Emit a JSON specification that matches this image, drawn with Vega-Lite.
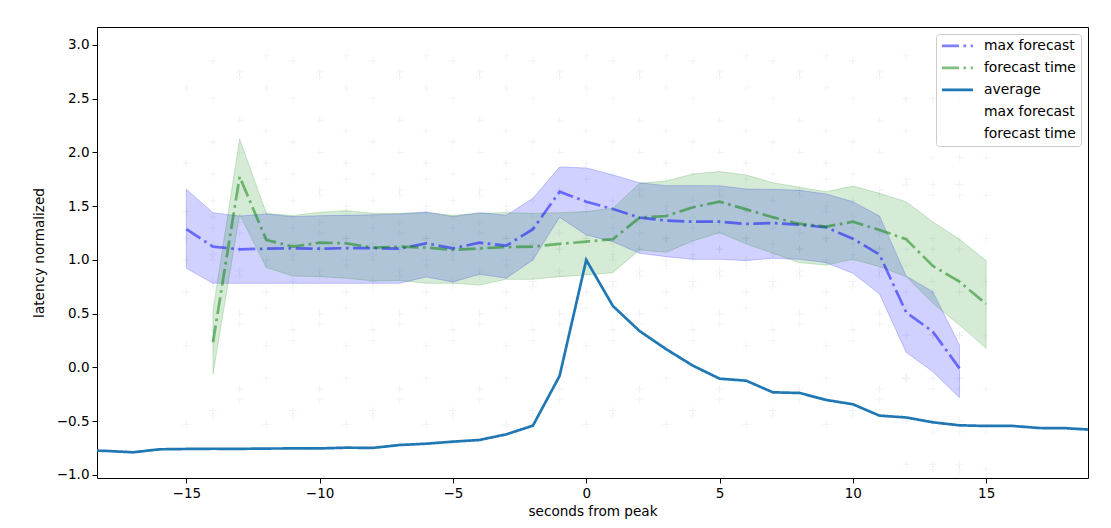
{
  "$schema": "https://vega.github.io/schema/vega-lite/v6.json",
  "width": 991,
  "height": 451,
  "autosize": {"type": "none"},
  "padding": {"left": 97, "top": 27, "right": 23, "bottom": 50},
  "background": "white",
  "config": {
    "view": {"stroke": "black", "strokeWidth": 1},
    "font": "DejaVu Sans",
    "axis": {
      "domain": false, "grid": false, "ticks": true, "tickColor": "black", "tickSize": 5, "tickWidth": 1,
      "labelColor": "black", "labelFontSize": 13.5, "labelFont": "DejaVu Sans", "labelPadding": 3,
      "titleColor": "black", "titleFont": "DejaVu Sans", "titleFontSize": 13.6, "titleFontWeight": "normal"
    },
    "axisX": {"titlePadding": 5, "labelFontSize": 13.5, "titleFontSize": 13.6},
    "axisY": {"titlePadding": 10, "labelFontSize": 13.5, "titleFontSize": 13.6},
    "legend": {
      "orient": "top-right", "offset": 7, "fillColor": "rgba(255,255,255,0.8)", "strokeColor": "#cccccc",
      "cornerRadius": 3, "padding": 5, "labelFontSize": 13.9, "labelFont": "DejaVu Sans", "labelColor": "black",
      "rowPadding": 7, "labelOffset": 29, "symbolType": "M-1.2,0H5", "symbolSize": 100
    }
  },
  "datasets": {
    "avg": [
      {"x": -19, "y": -0.77, "s": "average"}, {"x": -18, "y": -0.776, "s": "average"}, {"x": -17, "y": -0.789, "s": "average"},
      {"x": -16, "y": -0.761, "s": "average"}, {"x": -15, "y": -0.758, "s": "average"}, {"x": -14, "y": -0.756, "s": "average"},
      {"x": -13, "y": -0.757, "s": "average"}, {"x": -12, "y": -0.754, "s": "average"}, {"x": -11, "y": -0.753, "s": "average"},
      {"x": -10, "y": -0.753, "s": "average"}, {"x": -9, "y": -0.746, "s": "average"}, {"x": -8, "y": -0.748, "s": "average"},
      {"x": -7, "y": -0.721, "s": "average"}, {"x": -6, "y": -0.709, "s": "average"}, {"x": -5, "y": -0.69, "s": "average"},
      {"x": -4, "y": -0.674, "s": "average"}, {"x": -3, "y": -0.622, "s": "average"}, {"x": -2, "y": -0.541, "s": "average"},
      {"x": -1, "y": -0.079, "s": "average"}, {"x": 0, "y": 1.0, "s": "average"}, {"x": 1, "y": 0.572, "s": "average"},
      {"x": 2, "y": 0.339, "s": "average"}, {"x": 3, "y": 0.17, "s": "average"}, {"x": 4, "y": 0.017, "s": "average"},
      {"x": 5, "y": -0.104, "s": "average"}, {"x": 6, "y": -0.123, "s": "average"}, {"x": 7, "y": -0.231, "s": "average"},
      {"x": 8, "y": -0.237, "s": "average"}, {"x": 9, "y": -0.302, "s": "average"}, {"x": 10, "y": -0.342, "s": "average"},
      {"x": 11, "y": -0.448, "s": "average"}, {"x": 12, "y": -0.465, "s": "average"}, {"x": 13, "y": -0.51, "s": "average"},
      {"x": 14, "y": -0.538, "s": "average"}, {"x": 15, "y": -0.544, "s": "average"}, {"x": 16, "y": -0.544, "s": "average"},
      {"x": 17, "y": -0.563, "s": "average"}, {"x": 18, "y": -0.565, "s": "average"}, {"x": 19, "y": -0.58, "s": "average"}
    ],
    "lines": [
      {"x": -15, "y": 1.288, "s": "max forecast"}, {"x": -14, "y": 1.124, "s": "max forecast"}, {"x": -13, "y": 1.099, "s": "max forecast"},
      {"x": -12, "y": 1.105, "s": "max forecast"}, {"x": -11, "y": 1.108, "s": "max forecast"}, {"x": -10, "y": 1.105, "s": "max forecast"},
      {"x": -9, "y": 1.11, "s": "max forecast"}, {"x": -8, "y": 1.11, "s": "max forecast"}, {"x": -7, "y": 1.105, "s": "max forecast"},
      {"x": -6, "y": 1.155, "s": "max forecast"}, {"x": -5, "y": 1.108, "s": "max forecast"}, {"x": -4, "y": 1.161, "s": "max forecast"},
      {"x": -3, "y": 1.133, "s": "max forecast"}, {"x": -2, "y": 1.286, "s": "max forecast"}, {"x": -1, "y": 1.635, "s": "max forecast"},
      {"x": 0, "y": 1.542, "s": "max forecast"}, {"x": 1, "y": 1.474, "s": "max forecast"}, {"x": 2, "y": 1.394, "s": "max forecast"},
      {"x": 3, "y": 1.366, "s": "max forecast"}, {"x": 4, "y": 1.356, "s": "max forecast"}, {"x": 5, "y": 1.356, "s": "max forecast"},
      {"x": 6, "y": 1.335, "s": "max forecast"}, {"x": 7, "y": 1.344, "s": "max forecast"}, {"x": 8, "y": 1.328, "s": "max forecast"},
      {"x": 9, "y": 1.304, "s": "max forecast"}, {"x": 10, "y": 1.198, "s": "max forecast"}, {"x": 11, "y": 1.05, "s": "max forecast"},
      {"x": 12, "y": 0.513, "s": "max forecast"}, {"x": 13, "y": 0.333, "s": "max forecast"}, {"x": 14, "y": -0.008, "s": "max forecast"},
      {"x": -14, "y": 0.234, "s": "forecast time"}, {"x": -13, "y": 1.775, "s": "forecast time"}, {"x": -12, "y": 1.186, "s": "forecast time"},
      {"x": -11, "y": 1.124, "s": "forecast time"}, {"x": -10, "y": 1.161, "s": "forecast time"}, {"x": -9, "y": 1.155, "s": "forecast time"},
      {"x": -8, "y": 1.115, "s": "forecast time"}, {"x": -7, "y": 1.124, "s": "forecast time"}, {"x": -6, "y": 1.115, "s": "forecast time"},
      {"x": -5, "y": 1.093, "s": "forecast time"}, {"x": -4, "y": 1.108, "s": "forecast time"}, {"x": -3, "y": 1.12, "s": "forecast time"},
      {"x": -2, "y": 1.124, "s": "forecast time"}, {"x": -1, "y": 1.149, "s": "forecast time"}, {"x": 0, "y": 1.171, "s": "forecast time"},
      {"x": 1, "y": 1.193, "s": "forecast time"}, {"x": 2, "y": 1.394, "s": "forecast time"}, {"x": 3, "y": 1.409, "s": "forecast time"},
      {"x": 4, "y": 1.49, "s": "forecast time"}, {"x": 5, "y": 1.542, "s": "forecast time"}, {"x": 6, "y": 1.471, "s": "forecast time"},
      {"x": 7, "y": 1.397, "s": "forecast time"}, {"x": 8, "y": 1.335, "s": "forecast time"}, {"x": 9, "y": 1.31, "s": "forecast time"},
      {"x": 10, "y": 1.356, "s": "forecast time"}, {"x": 11, "y": 1.279, "s": "forecast time"}, {"x": 12, "y": 1.193, "s": "forecast time"},
      {"x": 13, "y": 0.944, "s": "forecast time"}, {"x": 14, "y": 0.798, "s": "forecast time"}, {"x": 15, "y": 0.591, "s": "forecast time"}
    ],
    "bands": [
      {"x": -15, "lo": 0.923, "hi": 1.658, "s": "m"}, {"x": -14, "lo": 0.783, "hi": 1.44, "s": "m"}, {"x": -13, "lo": 0.783, "hi": 1.409, "s": "m"},
      {"x": -12, "lo": 0.783, "hi": 1.428, "s": "m"}, {"x": -11, "lo": 0.783, "hi": 1.403, "s": "m"}, {"x": -10, "lo": 0.783, "hi": 1.412, "s": "m"},
      {"x": -9, "lo": 0.783, "hi": 1.415, "s": "m"}, {"x": -8, "lo": 0.783, "hi": 1.42, "s": "m"}, {"x": -7, "lo": 0.783, "hi": 1.428, "s": "m"},
      {"x": -6, "lo": 0.842, "hi": 1.447, "s": "m"}, {"x": -5, "lo": 0.795, "hi": 1.403, "s": "m"}, {"x": -4, "lo": 0.867, "hi": 1.44, "s": "m"},
      {"x": -3, "lo": 0.83, "hi": 1.416, "s": "m"}, {"x": -2, "lo": 1.0, "hi": 1.574, "s": "m"}, {"x": -1, "lo": 1.397, "hi": 1.865, "s": "m"},
      {"x": 0, "lo": 1.233, "hi": 1.856, "s": "m"}, {"x": 1, "lo": 1.17, "hi": 1.791, "s": "m"}, {"x": 2, "lo": 1.062, "hi": 1.719, "s": "m"},
      {"x": 3, "lo": 1.031, "hi": 1.691, "s": "m"}, {"x": 4, "lo": 1.006, "hi": 1.691, "s": "m"}, {"x": 5, "lo": 1.006, "hi": 1.69, "s": "m"},
      {"x": 6, "lo": 0.994, "hi": 1.66, "s": "m"}, {"x": 7, "lo": 1.016, "hi": 1.657, "s": "m"}, {"x": 8, "lo": 1.006, "hi": 1.648, "s": "m"},
      {"x": 9, "lo": 0.975, "hi": 1.614, "s": "m"}, {"x": 10, "lo": 0.876, "hi": 1.542, "s": "m"}, {"x": 11, "lo": 0.684, "hi": 1.409, "s": "m"},
      {"x": 12, "lo": 0.141, "hi": 0.851, "s": "m"}, {"x": 13, "lo": -0.039, "hi": 0.705, "s": "m"}, {"x": 14, "lo": -0.281, "hi": 0.209, "s": "m"},
      {"x": -14, "lo": -0.06, "hi": 0.53, "s": "f"}, {"x": -13, "lo": 1.424, "hi": 2.126, "s": "f"}, {"x": -12, "lo": 0.93, "hi": 1.434, "s": "f"},
      {"x": -11, "lo": 0.851, "hi": 1.412, "s": "f"}, {"x": -10, "lo": 0.845, "hi": 1.444, "s": "f"}, {"x": -9, "lo": 0.83, "hi": 1.459, "s": "f"},
      {"x": -8, "lo": 0.805, "hi": 1.434, "s": "f"}, {"x": -7, "lo": 0.81, "hi": 1.434, "s": "f"}, {"x": -6, "lo": 0.783, "hi": 1.44, "s": "f"},
      {"x": -5, "lo": 0.783, "hi": 1.415, "s": "f"}, {"x": -4, "lo": 0.767, "hi": 1.434, "s": "f"}, {"x": -3, "lo": 0.82, "hi": 1.44, "s": "f"},
      {"x": -2, "lo": 0.82, "hi": 1.434, "s": "f"}, {"x": -1, "lo": 0.845, "hi": 1.44, "s": "f"}, {"x": 0, "lo": 0.86, "hi": 1.45, "s": "f"},
      {"x": 1, "lo": 0.882, "hi": 1.481, "s": "f"}, {"x": 2, "lo": 1.093, "hi": 1.713, "s": "f"}, {"x": 3, "lo": 1.071, "hi": 1.735, "s": "f"},
      {"x": 4, "lo": 1.177, "hi": 1.8, "s": "f"}, {"x": 5, "lo": 1.254, "hi": 1.822, "s": "f"}, {"x": 6, "lo": 1.149, "hi": 1.791, "s": "f"},
      {"x": 7, "lo": 1.062, "hi": 1.719, "s": "f"}, {"x": 8, "lo": 0.975, "hi": 1.676, "s": "f"}, {"x": 9, "lo": 0.953, "hi": 1.635, "s": "f"},
      {"x": 10, "lo": 1.006, "hi": 1.687, "s": "f"}, {"x": 11, "lo": 0.938, "hi": 1.62, "s": "f"}, {"x": 12, "lo": 0.845, "hi": 1.542, "s": "f"},
      {"x": 13, "lo": 0.597, "hi": 1.356, "s": "f"}, {"x": 14, "lo": 0.395, "hi": 1.193, "s": "f"}, {"x": 15, "lo": 0.178, "hi": 0.994, "s": "f"}
    ],
    "pts": [
      {"x":-15,"y":-0.53,"s":"m"},{"x":-15,"y":0.2,"s":"m"},{"x":-15,"y":0.7,"s":"m"},{"x":-15,"y":1.0,"s":"m"},{"x":-15,"y":1.2,"s":"m"},{"x":-15,"y":1.45,"s":"m"},{"x":-15,"y":1.9,"s":"m"},{"x":-15,"y":2.6,"s":"m"},
      {"x":-14,"y":-0.4,"s":"m"},{"x":-14,"y":0.35,"s":"m"},{"x":-14,"y":0.8,"s":"m"},{"x":-14,"y":1.05,"s":"m"},{"x":-14,"y":1.3,"s":"m"},{"x":-14,"y":1.55,"s":"m"},{"x":-14,"y":2.1,"s":"m"},{"x":-14,"y":2.85,"s":"m"},
      {"x":-13,"y":-0.2,"s":"m"},{"x":-13,"y":0.5,"s":"m"},{"x":-13,"y":0.9,"s":"m"},{"x":-13,"y":1.1,"s":"m"},{"x":-13,"y":1.25,"s":"m"},{"x":-13,"y":1.65,"s":"m"},{"x":-13,"y":2.3,"s":"m"},{"x":-13,"y":2.75,"s":"m"},
      {"x":-12,"y":-0.53,"s":"m"},{"x":-12,"y":0.2,"s":"m"},{"x":-12,"y":0.7,"s":"m"},{"x":-12,"y":1.0,"s":"m"},{"x":-12,"y":1.2,"s":"m"},{"x":-12,"y":1.45,"s":"m"},{"x":-12,"y":1.9,"s":"m"},{"x":-12,"y":2.6,"s":"m"},
      {"x":-11,"y":-0.4,"s":"m"},{"x":-11,"y":0.35,"s":"m"},{"x":-11,"y":0.8,"s":"m"},{"x":-11,"y":1.05,"s":"m"},{"x":-11,"y":1.3,"s":"m"},{"x":-11,"y":1.55,"s":"m"},{"x":-11,"y":2.1,"s":"m"},{"x":-11,"y":2.85,"s":"m"},
      {"x":-10,"y":-0.2,"s":"m"},{"x":-10,"y":0.5,"s":"m"},{"x":-10,"y":0.9,"s":"m"},{"x":-10,"y":1.1,"s":"m"},{"x":-10,"y":1.25,"s":"m"},{"x":-10,"y":1.65,"s":"m"},{"x":-10,"y":2.3,"s":"m"},{"x":-10,"y":2.75,"s":"m"},
      {"x":-9,"y":-0.53,"s":"m"},{"x":-9,"y":0.2,"s":"m"},{"x":-9,"y":0.7,"s":"m"},{"x":-9,"y":1.0,"s":"m"},{"x":-9,"y":1.2,"s":"m"},{"x":-9,"y":1.45,"s":"m"},{"x":-9,"y":1.9,"s":"m"},{"x":-9,"y":2.6,"s":"m"},
      {"x":-8,"y":-0.4,"s":"m"},{"x":-8,"y":0.35,"s":"m"},{"x":-8,"y":0.8,"s":"m"},{"x":-8,"y":1.05,"s":"m"},{"x":-8,"y":1.3,"s":"m"},{"x":-8,"y":1.55,"s":"m"},{"x":-8,"y":2.1,"s":"m"},{"x":-8,"y":2.85,"s":"m"},
      {"x":-7,"y":-0.2,"s":"m"},{"x":-7,"y":0.5,"s":"m"},{"x":-7,"y":0.9,"s":"m"},{"x":-7,"y":1.1,"s":"m"},{"x":-7,"y":1.25,"s":"m"},{"x":-7,"y":1.65,"s":"m"},{"x":-7,"y":2.3,"s":"m"},{"x":-7,"y":2.75,"s":"m"},
      {"x":-6,"y":-0.53,"s":"m"},{"x":-6,"y":0.2,"s":"m"},{"x":-6,"y":0.7,"s":"m"},{"x":-6,"y":1.0,"s":"m"},{"x":-6,"y":1.2,"s":"m"},{"x":-6,"y":1.45,"s":"m"},{"x":-6,"y":1.9,"s":"m"},{"x":-6,"y":2.6,"s":"m"},
      {"x":-5,"y":-0.4,"s":"m"},{"x":-5,"y":0.35,"s":"m"},{"x":-5,"y":0.8,"s":"m"},{"x":-5,"y":1.05,"s":"m"},{"x":-5,"y":1.3,"s":"m"},{"x":-5,"y":1.55,"s":"m"},{"x":-5,"y":2.1,"s":"m"},{"x":-5,"y":2.85,"s":"m"},
      {"x":-4,"y":-0.2,"s":"m"},{"x":-4,"y":0.5,"s":"m"},{"x":-4,"y":0.9,"s":"m"},{"x":-4,"y":1.1,"s":"m"},{"x":-4,"y":1.25,"s":"m"},{"x":-4,"y":1.65,"s":"m"},{"x":-4,"y":2.3,"s":"m"},{"x":-4,"y":2.75,"s":"m"},
      {"x":-3,"y":-0.53,"s":"m"},{"x":-3,"y":0.2,"s":"m"},{"x":-3,"y":0.7,"s":"m"},{"x":-3,"y":1.0,"s":"m"},{"x":-3,"y":1.2,"s":"m"},{"x":-3,"y":1.45,"s":"m"},{"x":-3,"y":1.9,"s":"m"},{"x":-3,"y":2.6,"s":"m"},
      {"x":-2,"y":-0.4,"s":"m"},{"x":-2,"y":0.35,"s":"m"},{"x":-2,"y":0.8,"s":"m"},{"x":-2,"y":1.05,"s":"m"},{"x":-2,"y":1.3,"s":"m"},{"x":-2,"y":1.55,"s":"m"},{"x":-2,"y":2.1,"s":"m"},{"x":-2,"y":2.85,"s":"m"},
      {"x":-1,"y":-0.2,"s":"m"},{"x":-1,"y":0.5,"s":"m"},{"x":-1,"y":0.9,"s":"m"},{"x":-1,"y":1.1,"s":"m"},{"x":-1,"y":1.25,"s":"m"},{"x":-1,"y":1.65,"s":"m"},{"x":-1,"y":2.3,"s":"m"},{"x":-1,"y":2.75,"s":"m"},
      {"x":0,"y":-0.53,"s":"m"},{"x":0,"y":0.2,"s":"m"},{"x":0,"y":0.7,"s":"m"},{"x":0,"y":1.0,"s":"m"},{"x":0,"y":1.2,"s":"m"},{"x":0,"y":1.45,"s":"m"},{"x":0,"y":1.9,"s":"m"},{"x":0,"y":2.6,"s":"m"},
      {"x":1,"y":-0.4,"s":"m"},{"x":1,"y":0.35,"s":"m"},{"x":1,"y":0.8,"s":"m"},{"x":1,"y":1.05,"s":"m"},{"x":1,"y":1.3,"s":"m"},{"x":1,"y":1.55,"s":"m"},{"x":1,"y":2.1,"s":"m"},{"x":1,"y":2.85,"s":"m"},
      {"x":2,"y":-0.2,"s":"m"},{"x":2,"y":0.5,"s":"m"},{"x":2,"y":0.9,"s":"m"},{"x":2,"y":1.1,"s":"m"},{"x":2,"y":1.25,"s":"m"},{"x":2,"y":1.65,"s":"m"},{"x":2,"y":2.3,"s":"m"},{"x":2,"y":2.75,"s":"m"},
      {"x":3,"y":-0.53,"s":"m"},{"x":3,"y":0.2,"s":"m"},{"x":3,"y":0.7,"s":"m"},{"x":3,"y":1.0,"s":"m"},{"x":3,"y":1.2,"s":"m"},{"x":3,"y":1.45,"s":"m"},{"x":3,"y":1.9,"s":"m"},{"x":3,"y":2.6,"s":"m"},
      {"x":4,"y":-0.4,"s":"m"},{"x":4,"y":0.35,"s":"m"},{"x":4,"y":0.8,"s":"m"},{"x":4,"y":1.05,"s":"m"},{"x":4,"y":1.3,"s":"m"},{"x":4,"y":1.55,"s":"m"},{"x":4,"y":2.1,"s":"m"},{"x":4,"y":2.85,"s":"m"},
      {"x":5,"y":-0.2,"s":"m"},{"x":5,"y":0.5,"s":"m"},{"x":5,"y":0.9,"s":"m"},{"x":5,"y":1.1,"s":"m"},{"x":5,"y":1.25,"s":"m"},{"x":5,"y":1.65,"s":"m"},{"x":5,"y":2.3,"s":"m"},{"x":5,"y":2.75,"s":"m"},
      {"x":6,"y":-0.53,"s":"m"},{"x":6,"y":0.2,"s":"m"},{"x":6,"y":0.7,"s":"m"},{"x":6,"y":1.0,"s":"m"},{"x":6,"y":1.2,"s":"m"},{"x":6,"y":1.45,"s":"m"},{"x":6,"y":1.9,"s":"m"},{"x":6,"y":2.6,"s":"m"},
      {"x":7,"y":-0.4,"s":"m"},{"x":7,"y":0.35,"s":"m"},{"x":7,"y":0.8,"s":"m"},{"x":7,"y":1.05,"s":"m"},{"x":7,"y":1.3,"s":"m"},{"x":7,"y":1.55,"s":"m"},{"x":7,"y":2.1,"s":"m"},{"x":7,"y":2.85,"s":"m"},
      {"x":8,"y":-0.2,"s":"m"},{"x":8,"y":0.5,"s":"m"},{"x":8,"y":0.9,"s":"m"},{"x":8,"y":1.1,"s":"m"},{"x":8,"y":1.25,"s":"m"},{"x":8,"y":1.65,"s":"m"},{"x":8,"y":2.3,"s":"m"},{"x":8,"y":2.75,"s":"m"},
      {"x":9,"y":-0.53,"s":"m"},{"x":9,"y":0.2,"s":"m"},{"x":9,"y":0.7,"s":"m"},{"x":9,"y":1.0,"s":"m"},{"x":9,"y":1.2,"s":"m"},{"x":9,"y":1.45,"s":"m"},{"x":9,"y":1.9,"s":"m"},{"x":9,"y":2.6,"s":"m"},
      {"x":10,"y":-0.4,"s":"m"},{"x":10,"y":0.35,"s":"m"},{"x":10,"y":0.8,"s":"m"},{"x":10,"y":1.05,"s":"m"},{"x":10,"y":1.3,"s":"m"},{"x":10,"y":1.55,"s":"m"},{"x":10,"y":2.1,"s":"m"},{"x":10,"y":2.85,"s":"m"},
      {"x":11,"y":-0.2,"s":"m"},{"x":11,"y":0.5,"s":"m"},{"x":11,"y":0.9,"s":"m"},{"x":11,"y":1.1,"s":"m"},{"x":11,"y":1.25,"s":"m"},{"x":11,"y":1.65,"s":"m"},{"x":11,"y":2.3,"s":"m"},{"x":11,"y":2.75,"s":"m"},
      {"x":12,"y":-0.9,"s":"m"},{"x":12,"y":-0.5,"s":"m"},{"x":12,"y":-0.1,"s":"m"},{"x":12,"y":0.3,"s":"m"},{"x":12,"y":0.7,"s":"m"},{"x":12,"y":1.1,"s":"m"},{"x":12,"y":1.7,"s":"m"},{"x":12,"y":2.5,"s":"m"},
      {"x":13,"y":-0.9,"s":"m"},{"x":13,"y":-0.5,"s":"m"},{"x":13,"y":-0.1,"s":"m"},{"x":13,"y":0.3,"s":"m"},{"x":13,"y":0.7,"s":"m"},{"x":13,"y":1.1,"s":"m"},{"x":13,"y":1.7,"s":"m"},{"x":13,"y":2.5,"s":"m"},
      {"x":14,"y":-0.9,"s":"m"},{"x":14,"y":-0.5,"s":"m"},{"x":14,"y":-0.1,"s":"m"},{"x":14,"y":0.3,"s":"m"},{"x":14,"y":0.7,"s":"m"},{"x":14,"y":1.1,"s":"m"},{"x":14,"y":1.7,"s":"m"},{"x":14,"y":2.5,"s":"m"},
      {"x":-14,"y":-0.45,"s":"f"},{"x":-14,"y":0.25,"s":"f"},{"x":-14,"y":0.75,"s":"f"},{"x":-14,"y":1.0,"s":"f"},{"x":-14,"y":1.15,"s":"f"},{"x":-14,"y":1.4,"s":"f"},{"x":-14,"y":1.8,"s":"f"},{"x":-14,"y":2.5,"s":"f"},
      {"x":-13,"y":-0.3,"s":"f"},{"x":-13,"y":0.4,"s":"f"},{"x":-13,"y":0.85,"s":"f"},{"x":-13,"y":1.1,"s":"f"},{"x":-13,"y":1.35,"s":"f"},{"x":-13,"y":1.6,"s":"f"},{"x":-13,"y":2.0,"s":"f"},{"x":-13,"y":2.7,"s":"f"},
      {"x":-12,"y":-0.1,"s":"f"},{"x":-12,"y":0.55,"s":"f"},{"x":-12,"y":0.95,"s":"f"},{"x":-12,"y":1.2,"s":"f"},{"x":-12,"y":1.5,"s":"f"},{"x":-12,"y":1.75,"s":"f"},{"x":-12,"y":2.2,"s":"f"},{"x":-12,"y":2.9,"s":"f"},
      {"x":-11,"y":-0.45,"s":"f"},{"x":-11,"y":0.25,"s":"f"},{"x":-11,"y":0.75,"s":"f"},{"x":-11,"y":1.0,"s":"f"},{"x":-11,"y":1.15,"s":"f"},{"x":-11,"y":1.4,"s":"f"},{"x":-11,"y":1.8,"s":"f"},{"x":-11,"y":2.5,"s":"f"},
      {"x":-10,"y":-0.3,"s":"f"},{"x":-10,"y":0.4,"s":"f"},{"x":-10,"y":0.85,"s":"f"},{"x":-10,"y":1.1,"s":"f"},{"x":-10,"y":1.35,"s":"f"},{"x":-10,"y":1.6,"s":"f"},{"x":-10,"y":2.0,"s":"f"},{"x":-10,"y":2.7,"s":"f"},
      {"x":-9,"y":-0.1,"s":"f"},{"x":-9,"y":0.55,"s":"f"},{"x":-9,"y":0.95,"s":"f"},{"x":-9,"y":1.2,"s":"f"},{"x":-9,"y":1.5,"s":"f"},{"x":-9,"y":1.75,"s":"f"},{"x":-9,"y":2.2,"s":"f"},{"x":-9,"y":2.9,"s":"f"},
      {"x":-8,"y":-0.45,"s":"f"},{"x":-8,"y":0.25,"s":"f"},{"x":-8,"y":0.75,"s":"f"},{"x":-8,"y":1.0,"s":"f"},{"x":-8,"y":1.15,"s":"f"},{"x":-8,"y":1.4,"s":"f"},{"x":-8,"y":1.8,"s":"f"},{"x":-8,"y":2.5,"s":"f"},
      {"x":-7,"y":-0.3,"s":"f"},{"x":-7,"y":0.4,"s":"f"},{"x":-7,"y":0.85,"s":"f"},{"x":-7,"y":1.1,"s":"f"},{"x":-7,"y":1.35,"s":"f"},{"x":-7,"y":1.6,"s":"f"},{"x":-7,"y":2.0,"s":"f"},{"x":-7,"y":2.7,"s":"f"},
      {"x":-6,"y":-0.1,"s":"f"},{"x":-6,"y":0.55,"s":"f"},{"x":-6,"y":0.95,"s":"f"},{"x":-6,"y":1.2,"s":"f"},{"x":-6,"y":1.5,"s":"f"},{"x":-6,"y":1.75,"s":"f"},{"x":-6,"y":2.2,"s":"f"},{"x":-6,"y":2.9,"s":"f"},
      {"x":-5,"y":-0.45,"s":"f"},{"x":-5,"y":0.25,"s":"f"},{"x":-5,"y":0.75,"s":"f"},{"x":-5,"y":1.0,"s":"f"},{"x":-5,"y":1.15,"s":"f"},{"x":-5,"y":1.4,"s":"f"},{"x":-5,"y":1.8,"s":"f"},{"x":-5,"y":2.5,"s":"f"},
      {"x":-4,"y":-0.3,"s":"f"},{"x":-4,"y":0.4,"s":"f"},{"x":-4,"y":0.85,"s":"f"},{"x":-4,"y":1.1,"s":"f"},{"x":-4,"y":1.35,"s":"f"},{"x":-4,"y":1.6,"s":"f"},{"x":-4,"y":2.0,"s":"f"},{"x":-4,"y":2.7,"s":"f"},
      {"x":-3,"y":-0.1,"s":"f"},{"x":-3,"y":0.55,"s":"f"},{"x":-3,"y":0.95,"s":"f"},{"x":-3,"y":1.2,"s":"f"},{"x":-3,"y":1.5,"s":"f"},{"x":-3,"y":1.75,"s":"f"},{"x":-3,"y":2.2,"s":"f"},{"x":-3,"y":2.9,"s":"f"},
      {"x":-2,"y":-0.45,"s":"f"},{"x":-2,"y":0.25,"s":"f"},{"x":-2,"y":0.75,"s":"f"},{"x":-2,"y":1.0,"s":"f"},{"x":-2,"y":1.15,"s":"f"},{"x":-2,"y":1.4,"s":"f"},{"x":-2,"y":1.8,"s":"f"},{"x":-2,"y":2.5,"s":"f"},
      {"x":-1,"y":-0.3,"s":"f"},{"x":-1,"y":0.4,"s":"f"},{"x":-1,"y":0.85,"s":"f"},{"x":-1,"y":1.1,"s":"f"},{"x":-1,"y":1.35,"s":"f"},{"x":-1,"y":1.6,"s":"f"},{"x":-1,"y":2.0,"s":"f"},{"x":-1,"y":2.7,"s":"f"},
      {"x":0,"y":-0.1,"s":"f"},{"x":0,"y":0.55,"s":"f"},{"x":0,"y":0.95,"s":"f"},{"x":0,"y":1.2,"s":"f"},{"x":0,"y":1.5,"s":"f"},{"x":0,"y":1.75,"s":"f"},{"x":0,"y":2.2,"s":"f"},{"x":0,"y":2.9,"s":"f"},
      {"x":1,"y":-0.45,"s":"f"},{"x":1,"y":0.25,"s":"f"},{"x":1,"y":0.75,"s":"f"},{"x":1,"y":1.0,"s":"f"},{"x":1,"y":1.15,"s":"f"},{"x":1,"y":1.4,"s":"f"},{"x":1,"y":1.8,"s":"f"},{"x":1,"y":2.5,"s":"f"},
      {"x":2,"y":-0.3,"s":"f"},{"x":2,"y":0.4,"s":"f"},{"x":2,"y":0.85,"s":"f"},{"x":2,"y":1.1,"s":"f"},{"x":2,"y":1.35,"s":"f"},{"x":2,"y":1.6,"s":"f"},{"x":2,"y":2.0,"s":"f"},{"x":2,"y":2.7,"s":"f"},
      {"x":3,"y":-0.1,"s":"f"},{"x":3,"y":0.55,"s":"f"},{"x":3,"y":0.95,"s":"f"},{"x":3,"y":1.2,"s":"f"},{"x":3,"y":1.5,"s":"f"},{"x":3,"y":1.75,"s":"f"},{"x":3,"y":2.2,"s":"f"},{"x":3,"y":2.9,"s":"f"},
      {"x":4,"y":-0.45,"s":"f"},{"x":4,"y":0.25,"s":"f"},{"x":4,"y":0.75,"s":"f"},{"x":4,"y":1.0,"s":"f"},{"x":4,"y":1.15,"s":"f"},{"x":4,"y":1.4,"s":"f"},{"x":4,"y":1.8,"s":"f"},{"x":4,"y":2.5,"s":"f"},
      {"x":5,"y":-0.3,"s":"f"},{"x":5,"y":0.4,"s":"f"},{"x":5,"y":0.85,"s":"f"},{"x":5,"y":1.1,"s":"f"},{"x":5,"y":1.35,"s":"f"},{"x":5,"y":1.6,"s":"f"},{"x":5,"y":2.0,"s":"f"},{"x":5,"y":2.7,"s":"f"},
      {"x":6,"y":-0.1,"s":"f"},{"x":6,"y":0.55,"s":"f"},{"x":6,"y":0.95,"s":"f"},{"x":6,"y":1.2,"s":"f"},{"x":6,"y":1.5,"s":"f"},{"x":6,"y":1.75,"s":"f"},{"x":6,"y":2.2,"s":"f"},{"x":6,"y":2.9,"s":"f"},
      {"x":7,"y":-0.45,"s":"f"},{"x":7,"y":0.25,"s":"f"},{"x":7,"y":0.75,"s":"f"},{"x":7,"y":1.0,"s":"f"},{"x":7,"y":1.15,"s":"f"},{"x":7,"y":1.4,"s":"f"},{"x":7,"y":1.8,"s":"f"},{"x":7,"y":2.5,"s":"f"},
      {"x":8,"y":-0.3,"s":"f"},{"x":8,"y":0.4,"s":"f"},{"x":8,"y":0.85,"s":"f"},{"x":8,"y":1.1,"s":"f"},{"x":8,"y":1.35,"s":"f"},{"x":8,"y":1.6,"s":"f"},{"x":8,"y":2.0,"s":"f"},{"x":8,"y":2.7,"s":"f"},
      {"x":9,"y":-0.1,"s":"f"},{"x":9,"y":0.55,"s":"f"},{"x":9,"y":0.95,"s":"f"},{"x":9,"y":1.2,"s":"f"},{"x":9,"y":1.5,"s":"f"},{"x":9,"y":1.75,"s":"f"},{"x":9,"y":2.2,"s":"f"},{"x":9,"y":2.9,"s":"f"},
      {"x":10,"y":-0.45,"s":"f"},{"x":10,"y":0.25,"s":"f"},{"x":10,"y":0.75,"s":"f"},{"x":10,"y":1.0,"s":"f"},{"x":10,"y":1.15,"s":"f"},{"x":10,"y":1.4,"s":"f"},{"x":10,"y":1.8,"s":"f"},{"x":10,"y":2.5,"s":"f"},
      {"x":11,"y":-0.3,"s":"f"},{"x":11,"y":0.4,"s":"f"},{"x":11,"y":0.85,"s":"f"},{"x":11,"y":1.1,"s":"f"},{"x":11,"y":1.35,"s":"f"},{"x":11,"y":1.6,"s":"f"},{"x":11,"y":2.0,"s":"f"},{"x":11,"y":2.7,"s":"f"},
      {"x":12,"y":-0.1,"s":"f"},{"x":12,"y":0.55,"s":"f"},{"x":12,"y":0.95,"s":"f"},{"x":12,"y":1.2,"s":"f"},{"x":12,"y":1.5,"s":"f"},{"x":12,"y":1.75,"s":"f"},{"x":12,"y":2.2,"s":"f"},{"x":12,"y":2.9,"s":"f"},
      {"x":13,"y":-0.95,"s":"f"},{"x":13,"y":-0.6,"s":"f"},{"x":13,"y":-0.2,"s":"f"},{"x":13,"y":0.3,"s":"f"},{"x":13,"y":0.8,"s":"f"},{"x":13,"y":1.2,"s":"f"},{"x":13,"y":1.6,"s":"f"},{"x":13,"y":1.95,"s":"f"},
      {"x":14,"y":-0.95,"s":"f"},{"x":14,"y":-0.6,"s":"f"},{"x":14,"y":-0.2,"s":"f"},{"x":14,"y":0.3,"s":"f"},{"x":14,"y":0.8,"s":"f"},{"x":14,"y":1.2,"s":"f"},{"x":14,"y":1.6,"s":"f"},{"x":14,"y":1.95,"s":"f"},
      {"x":15,"y":-0.95,"s":"f"},{"x":15,"y":-0.6,"s":"f"},{"x":15,"y":-0.2,"s":"f"},{"x":15,"y":0.3,"s":"f"},{"x":15,"y":0.8,"s":"f"},{"x":15,"y":1.2,"s":"f"},{"x":15,"y":1.6,"s":"f"},{"x":15,"y":1.95,"s":"f"}
    ]
  },
  "layer": [
    {
      "data": {"name": "pts"},
      "transform": [{"filter": "datum.s == 'm'"}],
      "mark": {"type": "point", "shape": "M-1,0H1M0,-1V1", "filled": false, "size": 56, "strokeWidth": 1, "color": "#0000ff", "opacity": 0.05, "clip": true},
      "encoding": {
        "x": {"field": "x", "type": "quantitative", "title": "seconds from peak", "scale": {"domain": [-18.35, 18.82], "nice": false, "zero": false}, "axis": {"values": [-15, -10, -5, 0, 5, 10, 15], "format": "d", "labelExpr": "replace(datum.label, '-', '\u2212')", "labelFontSize": 13.5, "titleFontSize": 13.6, "titlePadding": 5}},
        "y": {"field": "y", "type": "quantitative", "title": "latency normalized", "scale": {"domain": [-1.028, 3.167], "nice": false, "zero": false}, "axis": {"values": [-1, -0.5, 0, 0.5, 1, 1.5, 2, 2.5, 3], "format": ".1f", "labelExpr": "replace(datum.label, '-', '\u2212')", "labelFontSize": 13.5, "titleFontSize": 13.6, "titlePadding": 10}}
      }
    },
    {
      "data": {"name": "pts"},
      "transform": [{"filter": "datum.s == 'f'"}],
      "mark": {"type": "point", "shape": "M-1,0H1M0,-1V1", "filled": false, "size": 56, "strokeWidth": 1, "color": "#008000", "opacity": 0.05, "clip": true},
      "encoding": {
        "x": {"field": "x", "type": "quantitative", "title": "seconds from peak"},
        "y": {"field": "y", "type": "quantitative", "title": "latency normalized"}
      }
    },
    {
      "data": {"name": "bands"},
      "transform": [{"filter": "datum.s == 'm'"}],
      "mark": {"type": "area", "color": "#0000ff", "fillOpacity": 0.18, "stroke": "#0000ff", "strokeOpacity": 0.2, "strokeWidth": 1, "clip": true},
      "encoding": {
        "x": {"field": "x", "type": "quantitative", "title": "seconds from peak"},
        "y": {"field": "lo", "type": "quantitative", "title": "latency normalized"},
        "y2": {"field": "hi"}
      }
    },
    {
      "data": {"name": "bands"},
      "transform": [{"filter": "datum.s == 'f'"}],
      "mark": {"type": "area", "color": "#008000", "fillOpacity": 0.16, "stroke": "#008000", "strokeOpacity": 0.18, "strokeWidth": 1, "clip": true},
      "encoding": {
        "x": {"field": "x", "type": "quantitative", "title": "seconds from peak"},
        "y": {"field": "lo", "type": "quantitative", "title": "latency normalized"},
        "y2": {"field": "hi"}
      }
    },
    {
      "data": {"name": "lines"},
      "mark": {"type": "line", "clip": true},
      "encoding": {
        "x": {"field": "x", "type": "quantitative", "title": "seconds from peak"},
        "y": {"field": "y", "type": "quantitative", "title": "latency normalized"},
        "color": {"field": "s", "type": "nominal", "scale": {"domain": ["max forecast", "forecast time", "average", "max forecast ", "forecast time "], "range": ["rgba(0,0,255,0.5)", "rgba(0,128,0,0.5)", "#1f77b4", "rgba(0,0,0,0)", "rgba(0,0,0,0)"]}, "legend": {"title": null}},
        "strokeDash": {"field": "s", "type": "nominal", "scale": {"domain": ["max forecast", "forecast time", "average", "max forecast ", "forecast time "], "range": [[17, 4.5, 2.7, 4.5], [17, 4.5, 2.7, 4.5], [1, 0], [1, 0], [1, 0]]}, "legend": {"title": null}},
        "strokeWidth": {"field": "s", "type": "nominal", "scale": {"domain": ["max forecast", "forecast time", "average", "max forecast ", "forecast time "], "range": [2.7, 2.7, 4.2, 0, 0]}, "legend": {"title": null}}
      }
    },
    {
      "data": {"name": "avg"},
      "mark": {"type": "line", "clip": true},
      "encoding": {
        "x": {"field": "x", "type": "quantitative", "title": "seconds from peak"},
        "y": {"field": "y", "type": "quantitative", "title": "latency normalized"},
        "color": {"field": "s", "type": "nominal", "legend": {"title": null}},
        "strokeDash": {"field": "s", "type": "nominal", "legend": {"title": null}},
        "strokeWidth": {"field": "s", "type": "nominal", "legend": {"title": null}}
      }
    }
  ]
}
